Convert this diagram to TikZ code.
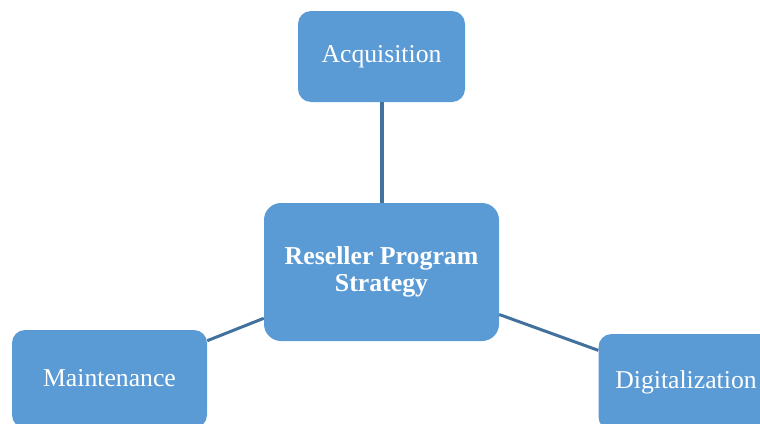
\documentclass[tikz,border=0pt]{standalone}
\usepackage{fontspec}
\setmainfont{Liberation Serif}
\usepackage{tikz}
\usetikzlibrary{positioning}
\usepackage{xcolor}
\definecolor{boxblue}{HTML}{5B9BD5}
\definecolor{linkblue}{HTML}{41719C}
\tikzset{
  topic/.style={rounded corners=13pt, fill=boxblue, text=white, align=center, inner sep=0pt, font=\fontsize{25.7}{27}\selectfont},
  hub/.style={topic, rounded corners=17pt, font=\fontsize{25.8}{27}\selectfont\bfseries},
  link/.style={line width=3pt, draw=linkblue}
}

\begin{document}
\begin{tikzpicture}[x=1pt, y=-1pt]
  \useasboundingbox (0,0) rectangle (760,423);
  \node[hub, minimum width=235pt, minimum height=138pt] (core) at (381.5,272) {Reseller Program\\Strategy};
  \node[topic, minimum width=167pt, minimum height=91pt] (acq) at (381.5,56.5) {Acquisition};
  \node[topic, minimum width=195pt, minimum height=98pt] (maint) at (109.5,379) {\raisebox{2pt}{Maintenance}};
  \node[topic, minimum width=175pt, minimum height=96pt] (digi) at (686,382) {Digitalization};
  \draw[link, line width=4pt] (acq)--(core);
  \draw[link] (core)--(maint);
  \draw[link] (core)--(digi);
\end{tikzpicture}
\end{document}
